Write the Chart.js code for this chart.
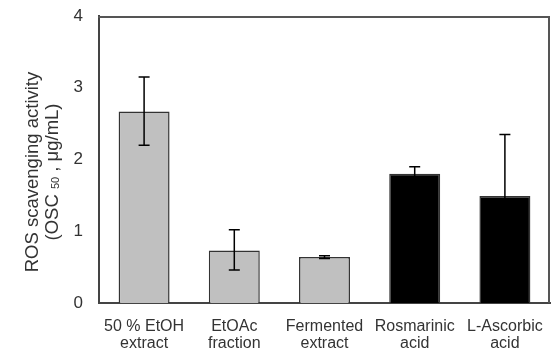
<!DOCTYPE html>
<html>
<head>
<meta charset="utf-8">
<script src="https://cdn.jsdelivr.net/npm/chart.js@4/dist/chart.umd.min.js"></script>
<style>
    html, body { margin: 0; padding: 0; background: #fff; }
    #wrap { width: 553px; height: 356px; }
</style>
</head>
<body>
<div id="wrap"><canvas id="chart" width="553" height="356"></canvas></div>
<script>
// Data
const categories = [
    ['50 % EtOH', 'extract'],
    ['EtOAc', 'fraction'],
    ['Fermented', 'extract'],
    ['Rosmarinic', 'acid'],
    ['L-Ascorbic', 'acid']
];
const values = [2.67, 0.73, 0.64, 1.80, 1.49];
const errLow = [2.20, 0.46, 0.62, 1.70, 0.63];
const errHigh = [3.15, 1.02, 0.66, 1.90, 2.35];
const barColors = ['#c0c0c0', '#c0c0c0', '#c0c0c0', '#000000', '#000000'];
const yTicks = [0, 1, 2, 3, 4];

const FONT = '"Liberation Sans", Arial, sans-serif';

// Error bars drawn through the scales
const errorBars = {
    id: 'errorBars',
    afterDatasetsDraw(chart) {
        const ctx = chart.ctx;
        const meta = chart.getDatasetMeta(0);
        const y = chart.scales.y;
        ctx.save();
        ctx.strokeStyle = '#000';
        ctx.lineWidth = 1.5;
        meta.data.forEach((bar, i) => {
            const x = bar.x;
            const top = y.getPixelForValue(errHigh[i]);
            const bot = y.getPixelForValue(errLow[i]);
            ctx.beginPath();
            ctx.moveTo(x, top); ctx.lineTo(x, bot);
            ctx.moveTo(x - 5.5, top); ctx.lineTo(x + 5.5, top);
            ctx.moveTo(x - 5.5, bot); ctx.lineTo(x + 5.5, bot);
            ctx.stroke();
        });
        ctx.restore();
    }
};

// Frame around plot area and y title with subscript
const frame = {
    id: 'frame',
    afterDraw(chart) {
        const { ctx, chartArea: a } = chart;
        ctx.save();
        ctx.fillStyle = '#555';
        ctx.fillRect(a.left - 1, a.top, a.right - a.left + 1, 2);
        ctx.fillRect(a.right - 2, a.top, 2, a.bottom - a.top);

        const cy = 172;
        ctx.fillStyle = '#333';
        ctx.textBaseline = 'middle';
        ctx.translate(33, cy);
        ctx.rotate(-Math.PI / 2);
        ctx.font = '18.5px ' + FONT;
        ctx.textAlign = 'center';
        ctx.fillText('ROS scavenging activity', 0, 0);
        // second line with subscript
        const parts = [['(OSC ', 18.5, 0], ['50', 11, 3], [' , \u03bcg/mL)', 18.5, 0]];
        let total = 0;
        parts.forEach(p => { ctx.font = p[1] + 'px ' + FONT; total += ctx.measureText(p[0]).width; });
        let x = -total / 2;
        ctx.textAlign = 'left';
        parts.forEach(p => {
            ctx.font = p[1] + 'px ' + FONT;
            ctx.fillText(p[0], x, 19.5 + p[2]);
            x += ctx.measureText(p[0]).width;
        });
        ctx.restore();
    }
};

new Chart(document.getElementById('chart'), {
    type: 'bar',
    data: {
        labels: categories,
        datasets: [{
            data: values,
            backgroundColor: barColors,
            borderColor: '#333',
            borderWidth: 1.5,
            borderSkipped: 'bottom',
            categoryPercentage: 1.0,
            barPercentage: 0.565
        }]
    },
    options: {
        responsive: false,
        animation: false,
        layout: { padding: { top: 16, right: 3, left: 0, bottom: 0 } },
        plugins: {
            legend: { display: false },
            tooltip: { enabled: false }
        },
        scales: {
            x: {
                grid: { display: false },
                border: { color: '#444', width: 2 },
                ticks: {
                    color: '#333',
                    font: { family: FONT, size: 16, lineHeight: 1.08 },
                    padding: 7,
                    maxRotation: 0,
                    autoSkip: false
                },
                afterFit(scale) {
                    scale.height = 53;
                    scale.paddingLeft = 0;
                    scale.paddingRight = 0;
                }
            },
            y: {
                min: 0,
                max: 4,
                afterBuildTicks(scale) { scale.ticks = yTicks.map(v => ({ value: v })); },
                grid: { display: false, drawTicks: false },
                border: { color: '#444', width: 2 },
                ticks: {
                    color: '#333',
                    font: { family: FONT, size: 17 },
                    padding: 16
                },
                afterFit(scale) {
                    scale.width = 99;
                    scale.paddingTop = 0;
                    scale.paddingBottom = 0;
                }
            }
        }
    },
    plugins: [errorBars, frame]
});
</script>
</body>
</html>
